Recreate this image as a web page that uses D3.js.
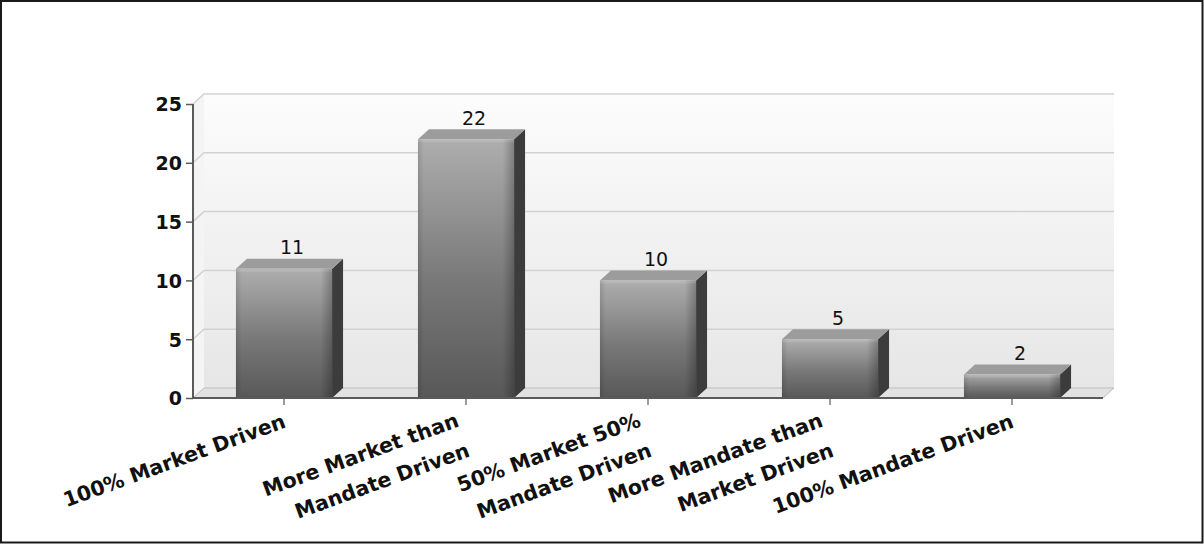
<!DOCTYPE html>
<html>
<head>
<meta charset="utf-8">
<script src="https://cdn.jsdelivr.net/npm/d3@7"></script>
<style>
  html, body { margin: 0; padding: 0; background: #fff; }
  svg { display: block; }
</style>
</head>
<body>
<script>
// ---- data ----
const categories = [
  "100% Market Driven",
  "More Market than\nMandate Driven",
  "50% Market 50%\nMandate Driven",
  "More Mandate than\nMarket Driven",
  "100% Mandate Driven"
];
const values = [11, 22, 10, 5, 2];
const yTicks = [0, 5, 10, 15, 20, 25];

// ---- layout ----
const W = 1204, H = 544;
const pLeft = 193, pRight = 1103, pTop = 104, pBottom = 398;
const depthX = 11, depthY = 10;

const svg = d3.select("body").append("svg").attr("width", W).attr("height", H);
const defs = svg.append("defs");

const wallG = defs.append("linearGradient").attr("id", "wall").attr("x1", 0).attr("y1", 0).attr("x2", 0).attr("y2", 1);
wallG.append("stop").attr("offset", "0%").attr("stop-color", "#fcfcfc");
wallG.append("stop").attr("offset", "100%").attr("stop-color", "#e6e6e6");

const frontG = defs.append("linearGradient").attr("id", "front").attr("x1", 0).attr("y1", 0).attr("x2", 0).attr("y2", 1);
frontG.append("stop").attr("offset", "0%").attr("stop-color", "#aeaeae");
frontG.append("stop").attr("offset", "55%").attr("stop-color", "#787878");
frontG.append("stop").attr("offset", "100%").attr("stop-color", "#585858");

const edgeG = defs.append("linearGradient").attr("id", "edge").attr("x1", 0).attr("y1", 0).attr("x2", 1).attr("y2", 0);
edgeG.append("stop").attr("offset", "0%").attr("stop-color", "#000").attr("stop-opacity", 0.12);
edgeG.append("stop").attr("offset", "6%").attr("stop-color", "#000").attr("stop-opacity", 0);
edgeG.append("stop").attr("offset", "88%").attr("stop-color", "#000").attr("stop-opacity", 0);
edgeG.append("stop").attr("offset", "100%").attr("stop-color", "#000").attr("stop-opacity", 0.25);

// outer frame
svg.append("rect").attr("x", 1).attr("y", 1).attr("width", W - 2.5).attr("height", H - 2.5)
  .attr("fill", "#fff").attr("stroke", "#1a1a1a").attr("stroke-width", 2);

// scales
const x = d3.scaleBand().domain(d3.range(categories.length)).range([pLeft, pRight]).padding(0);
const y = d3.scaleLinear().domain([0, 25]).range([pBottom, pTop]);
const barW = x.bandwidth() * 0.528;

// back wall
svg.append("rect").attr("x", pLeft + depthX).attr("y", pTop - depthY)
  .attr("width", pRight - pLeft).attr("height", pBottom - pTop).attr("fill", "url(#wall)");
// left wall
svg.append("path")
  .attr("d", `M${pLeft},${pTop}L${pLeft + depthX},${pTop - depthY}L${pLeft + depthX},${pBottom - depthY}L${pLeft},${pBottom}Z`)
  .attr("fill", "#f4f4f4");
// floor
svg.append("path")
  .attr("d", `M${pLeft},${pBottom}L${pLeft + depthX},${pBottom - depthY}L${pRight + depthX},${pBottom - depthY}L${pRight},${pBottom}Z`)
  .attr("fill", "#e2e2e2").attr("stroke", "#bdbdbd").attr("stroke-width", 1);

// gridlines
svg.append("g").selectAll("path").data(yTicks.filter(t => t > 0)).join("path")
  .attr("d", t => `M${pLeft},${y(t)}L${pLeft + depthX},${y(t) - depthY}L${pRight + depthX},${y(t) - depthY}`)
  .attr("fill", "none").attr("stroke", "#d2d2d2").attr("stroke-width", 1.5);

// bars
const bars = svg.append("g").selectAll("g").data(values).join("g");
bars.each(function(v, i) {
  const g = d3.select(this);
  const cx = x(i) + x.bandwidth() / 2;
  const x0 = cx - barW / 2, x1 = cx + barW / 2;
  const yt = y(v);
  g.append("path")
    .attr("d", `M${x1},${yt}L${x1 + depthX},${yt - depthY}L${x1 + depthX},${pBottom - depthY}L${x1},${pBottom}Z`)
    .attr("fill", "#3c3c3c");
  g.append("path")
    .attr("d", `M${x0},${yt}L${x0 + depthX},${yt - depthY}L${x1 + depthX},${yt - depthY}L${x1},${yt}Z`)
    .attr("fill", "#9c9c9c");
  g.append("rect").attr("x", x0).attr("y", yt).attr("width", barW).attr("height", pBottom - yt)
    .attr("fill", "url(#front)");
  g.append("rect").attr("x", x0).attr("y", yt).attr("width", barW).attr("height", pBottom - yt)
    .attr("fill", "url(#edge)");
  g.append("rect").attr("x", x0).attr("y", yt).attr("width", barW).attr("height", Math.min(3, pBottom - yt))
    .attr("fill", "#fff").attr("opacity", 0.12);
  g.append("text").attr("x", cx + 8).attr("y", yt - 14.5)
    .attr("text-anchor", "middle")
    .attr("font-family", "DejaVu Sans, Verdana, sans-serif")
    .attr("font-size", 19).attr("fill", "#111")
    .text(v);
});

// y axis
const yAxis = d3.axisLeft(y).tickValues(yTicks).tickSize(7).tickPadding(4);
const ya = svg.append("g").attr("transform", `translate(${pLeft},0)`).call(yAxis);
ya.select(".domain").attr("stroke", "#5a5a5a").attr("stroke-width", 2).attr("d", `M0,${pTop}V${pBottom}`);
ya.selectAll(".tick line").attr("stroke", "#5a5a5a").attr("stroke-width", 1.5);
ya.selectAll(".tick text").attr("font-family", "DejaVu Sans, Verdana, sans-serif")
  .attr("font-size", 19).attr("font-weight", "bold").attr("fill", "#111").attr("dy", "0.36em");

// x axis
const xAxis = d3.axisBottom(x).tickSize(7).tickFormat("");
const xa = svg.append("g").attr("transform", `translate(0,${pBottom})`).call(xAxis);
xa.select(".domain").attr("stroke", "#5a5a5a").attr("stroke-width", 2).attr("d", `M${pLeft},0H${pRight}`);
xa.selectAll(".tick line").attr("stroke", "#5a5a5a").attr("stroke-width", 1.2).attr("y1", 1);

// category labels
const labels = svg.append("g").selectAll("text").data(categories).join("text")
  .attr("transform", (d, i) => `translate(${x(i) + x.bandwidth() / 2 + 3},427) rotate(-20)`)
  .attr("text-anchor", "end")
  .attr("font-family", "DejaVu Sans, Verdana, sans-serif")
  .attr("font-size", 20.5).attr("font-weight", "bold").attr("fill", "#111");
labels.each(function(d) {
  const lines = d.split("\n");
  const t = d3.select(this);
  const multi = lines.length > 1;
  lines.forEach((ln, k) => {
    t.append("tspan")
      .attr("x", multi ? -8 : 0)
      .attr("dy", k === 0 ? (multi ? -4 : 0) : 32)
      .text(ln);
  });
});
</script>
</body>
</html>
